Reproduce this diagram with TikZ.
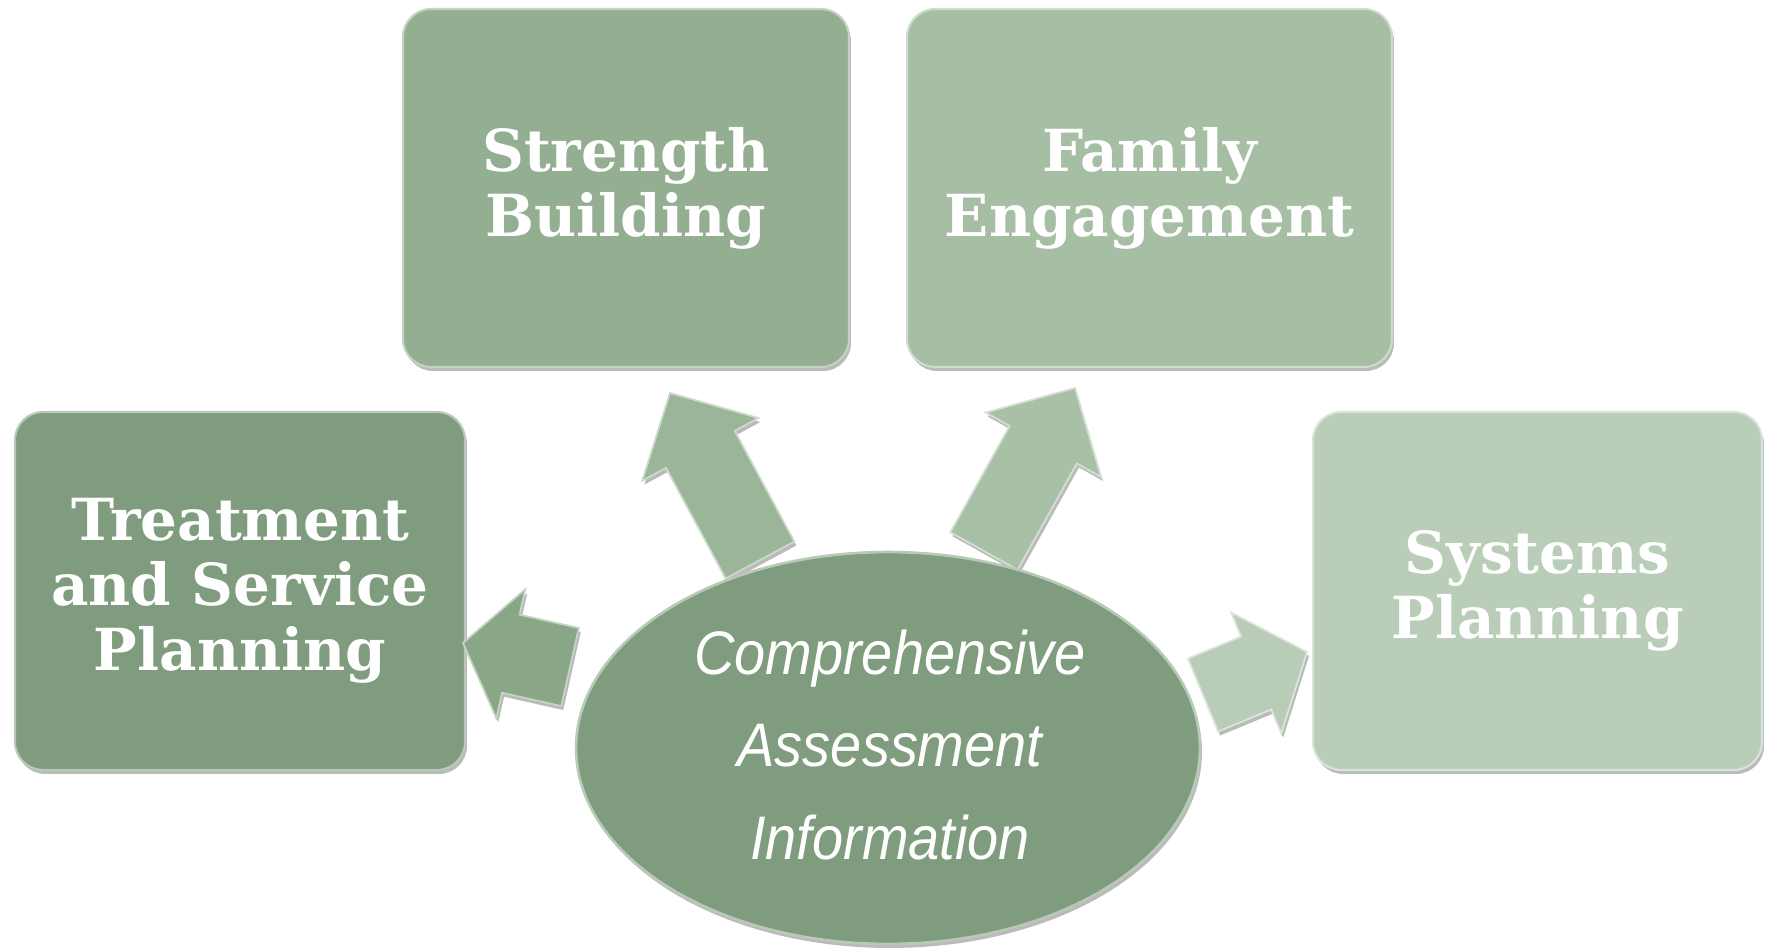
\documentclass[tikz,border=0pt]{standalone}
\usepackage{fontspec}
\newfontfamily\ellfont[FakeStretch=0.91]{Liberation Sans}
\newfontfamily\boxfont{DejaVu Serif}
\usetikzlibrary{shapes.geometric,shadows,calc}
\definecolor{cA}{HTML}{809C7E}
\definecolor{cB}{HTML}{94AE92}
\definecolor{cC}{HTML}{A6BEA4}
\definecolor{cD}{HTML}{B9CDB8}
\definecolor{aA}{HTML}{89A787}
\definecolor{aB}{HTML}{9AB598}
\definecolor{aC}{HTML}{A8C0A6}
\definecolor{aD}{HTML}{B8CCB7}
\tikzset{
  shad/.style={drop shadow={shadow xshift=0.04cm, shadow yshift=-0.08cm, opacity=0.45, fill=black!60}},
  box/.style={rectangle, rounded corners=0.56cm, shad, draw=#1!55!white, line width=1.2pt, fill=#1,
    minimum height=7.16cm, text=white, align=center, inner sep=0pt,
    font=\fontsize{33}{37}\selectfont\boxfont\bfseries},
  ell/.style={ellipse, shad, fill=cA, draw=cA!55!white, line width=1.5pt,
    minimum width=12.48cm, minimum height=7.84cm, inner sep=0pt},
  elltext/.style={text=white, align=center, inner sep=0pt,
    font=\fontsize{35}{52.4}\selectfont\ellfont\itshape},
  blk/.style={fill=#1, draw=#1!50!white, line width=1pt, line join=miter, shad}
}
\newcommand\myarrow[6]{%
  \path ($(#2)!#3!(#1)$) coordinate (H);
  \path[blk=#6] ($(#1)!#4!90:(#2)$) -- ($(H)!#4!90:(#2)$) -- ($(H)!#5!90:(#2)$) -- (#2)
    -- ($(H)!#5!-90:(#2)$) -- ($(H)!#4!-90:(#2)$) -- ($(#1)!#4!-90:(#2)$) -- cycle;
}
\begin{document}
\begin{tikzpicture}[x=0.02cm, y=-0.02cm]
\useasboundingbox (0,0) rectangle (1771,950);

% boxes
\node[box=cB, minimum width=8.92cm] (strength) at (626,188) {Strength\\Building};
\node[box=cC, minimum width=9.70cm] (family) at (1149.5,188) {Family\\Engagement};
\node[box=cA, minimum width=9.00cm] (treat) at (240,591) {Treatment\\and Service\\Planning};
\node[box=cD, minimum width=8.98cm] (systems) at (1537.5,591) {Systems\\Planning};

% arrow coordinates
\coordinate (aLb) at (570,667);  \coordinate (aLt) at (463,643);
\coordinate (aSb) at (760,560);  \coordinate (aSt) at (670,393);
\coordinate (aFb) at (984,551);  \coordinate (aFt) at (1075,388);
\coordinate (aRb) at (1203,695); \coordinate (aRt) at (1307,652);

\myarrow{aLb}{aLt}{0.98cm}{0.80cm}{1.32cm}{aA}
\myarrow{aSb}{aSt}{1.28cm}{0.78cm}{1.32cm}{aB}
\myarrow{aFb}{aFt}{1.30cm}{0.77cm}{1.32cm}{aC}
\myarrow{aRb}{aRt}{1.10cm}{0.79cm}{1.31cm}{aD}

% central ellipse
\node[ell] (center) at (888,748) {};
\node[elltext] (centertext) at (890,745) {Comprehensive\\Assessment\\Information};
\end{tikzpicture}
\end{document}
